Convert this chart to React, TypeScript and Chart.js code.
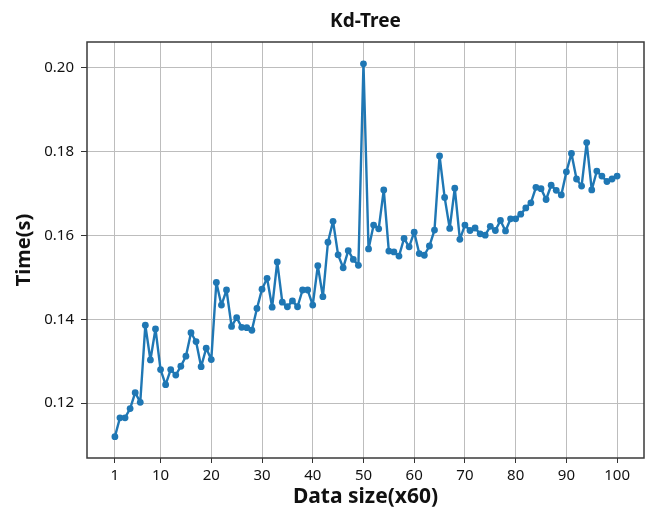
import React, { useEffect, useRef } from "react";
import { Chart, registerables } from "chart.js";

Chart.register(...registerables);

const chartTitle = "Kd-Tree";
const xAxisTitle = "Data size(x60)";
const yAxisTitle = "Time(s)";

const dataSizes: number[] = Array.from({ length: 100 }, (_, i) => i + 1);

const timeValues: number[] = [
  0.1120, 0.1165, 0.1165, 0.1187, 0.1225, 0.1202, 0.1386, 0.1303, 0.1377, 0.1280,
  0.1244, 0.1280, 0.1267, 0.1288, 0.1312, 0.1368, 0.1347, 0.1287, 0.1331, 0.1304,
  0.1488, 0.1434, 0.1470, 0.1383, 0.1404, 0.1381, 0.1380, 0.1374, 0.1426, 0.1472,
  0.1498, 0.1429, 0.1537, 0.1441, 0.1430, 0.1444, 0.1430, 0.1470, 0.1470, 0.1434,
  0.1528, 0.1454, 0.1584, 0.1634, 0.1554, 0.1523, 0.1564, 0.1543, 0.1529, 0.2010,
  0.1568, 0.1625, 0.1616, 0.1709, 0.1563, 0.1561, 0.1551, 0.1593, 0.1573, 0.1608,
  0.1557, 0.1553, 0.1575, 0.1613, 0.1790, 0.1691, 0.1617, 0.1713, 0.1591, 0.1625,
  0.1612, 0.1618, 0.1604, 0.1601, 0.1622, 0.1612, 0.1636, 0.1611, 0.1640, 0.1640,
  0.1651, 0.1666, 0.1678, 0.1715, 0.1712, 0.1686, 0.1720, 0.1708, 0.1697, 0.1752,
  0.1796, 0.1735, 0.1718, 0.1822, 0.1709, 0.1754, 0.1742, 0.1729, 0.1735, 0.1742,
];

const xTickValues: number[] = [1, 10, 20, 30, 40, 50, 60, 70, 80, 90, 100];
const yTickValues: number[] = [0.12, 0.14, 0.16, 0.18, 0.2];

const FONT = "'Noto Sans', 'Open Sans', sans-serif";

export default function App() {
  const canvasRef = useRef<HTMLCanvasElement | null>(null);

  useEffect(() => {
    const canvas = canvasRef.current;
    if (!canvas) return;

    const framePlugin = {
      id: "frameAndTitle",
      afterDraw(chart: any) {
        const { ctx, chartArea } = chart;
        ctx.save();
        ctx.strokeStyle = "#3a3a3a";
        ctx.lineWidth = 1.5;
        ctx.strokeRect(
          chartArea.left,
          chartArea.top,
          chartArea.right - chartArea.left,
          chartArea.bottom - chartArea.top
        );
        ctx.fillStyle = "#111";
        ctx.font = `bold 19px ${FONT}`;
        ctx.textAlign = "center";
        ctx.textBaseline = "middle";
        ctx.fillText(chartTitle, (chartArea.left + chartArea.right) / 2, 22);
        ctx.restore();
      },
    };

    const chart = new Chart(canvas, {
      type: "line",
      data: {
        datasets: [
          {
            data: dataSizes.map((x, i) => ({ x, y: timeValues[i] })),
            borderColor: "#1f77b4",
            backgroundColor: "#1f77b4",
            borderWidth: 2.4,
            borderJoinStyle: "round",
            borderCapStyle: "round",
            pointRadius: 3.4,
            pointBorderWidth: 0,
            pointBackgroundColor: "#1f77b4",
            tension: 0,
          },
        ],
      },
      options: {
        responsive: false,
        animation: false,
        layout: { padding: { top: 42, right: 8, left: 0, bottom: 0 } },
        plugins: {
          legend: { display: false },
          tooltip: { enabled: false },
          title: { display: false },
        },
        scales: {
          x: {
            type: "linear",
            min: -4.5,
            max: 105.3,
            afterBuildTicks: (scale: any) => {
              scale.ticks = xTickValues.map((v) => ({ value: v }));
            },
            afterFit: (scale: any) => {
              scale.height = 57;
            },
            ticks: {
              color: "#111",
              font: { size: 15, family: FONT },
              padding: 4,
              maxRotation: 0,
              autoSkip: false,
              callback: (v: any) => String(v),
            },
            grid: {
              color: "#bdbdbd",
              lineWidth: 1,
              tickColor: "#333",
              tickLength: 5,
              drawTicks: true,
            },
            border: { display: false },
            title: {
              display: true,
              text: xAxisTitle,
              color: "#111",
              font: { size: 21, weight: "bold", family: FONT },
              padding: { top: 0, bottom: 5 },
            },
          },
          y: {
            type: "linear",
            min: 0.1069,
            max: 0.2062,
            afterBuildTicks: (scale: any) => {
              scale.ticks = yTickValues.map((v) => ({ value: v }));
            },
            afterFit: (scale: any) => {
              scale.width = 87;
            },
            ticks: {
              color: "#111",
              font: { size: 15, family: FONT },
              padding: 7,
              callback: (v: any) => Number(v).toFixed(2),
            },
            grid: {
              color: "#bdbdbd",
              lineWidth: 1,
              tickColor: "#333",
              tickLength: 6,
              drawTicks: true,
            },
            border: { display: false },
            title: {
              display: true,
              text: yAxisTitle,
              color: "#111",
              font: { size: 20, weight: "bold", family: FONT },
              padding: { top: 12, bottom: 0 },
            },
          },
        },
      },
      plugins: [framePlugin],
    });

    return () => chart.destroy();
  }, []);

  return (
    <div style={{ position: "absolute", left: 0, top: 0, width: 652, height: 515, background: "#fff" }}>
      <canvas ref={canvasRef} width={652} height={515} style={{ width: 652, height: 515 }} />
    </div>
  );
}
